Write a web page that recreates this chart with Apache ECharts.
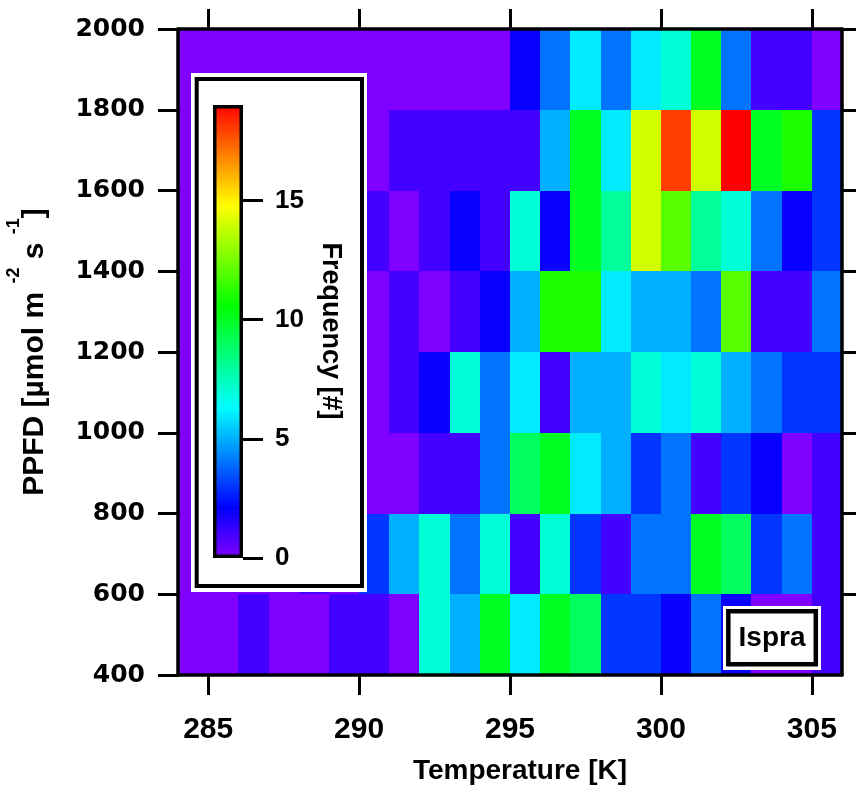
<!DOCTYPE html>
<html>
<head>
<meta charset="utf-8">
<script src="https://cdn.jsdelivr.net/npm/echarts@6/dist/echarts.min.js"></script>
<style>
html,body{margin:0;padding:0;background:#fff;}
#chart{width:856px;height:791px;}
</style>
</head>
<body>
<div id="chart"></div>
<script>
// ---- data ----
const tempBins = [284,285,286,287,288,289,290,291,292,293,294,295,296,297,298,299,300,301,302,303,304,305];
const ppfdBins = [400,600,800,1000,1200,1400,1600,1800];
const count400  = [0,0,1,0,0,1,1,0,7,5,10,6,10,9,3,3,2,4,2,0,0,1];
const count600  = [0,0,0,0,1,0,3,5,7,4,7,1,7,3,1,4,4,10,9,3,4,1];
const count800  = [0,0,0,0,0,0,0,0,1,1,4,9,10,6,5,3,4,1,3,2,0,1];
const count1000 = [0,0,0,0,0,0,0,1,2,7,4,6,1,5,5,7,6,7,5,4,3,3];
const count1200 = [0,0,0,0,0,0,0,1,0,1,2,5,11,11,6,5,5,4,12,1,1,4];
const count1400 = [0,0,0,0,0,0,1,0,1,2,1,7,2,10,8,14,12,8,7,4,2,3];
const count1600 = [0,0,0,0,0,0,0,1,1,1,1,1,5,10,6,14,18,14,19,10,11,3];
const count1800 = [0,0,0,0,0,0,0,0,0,0,0,2,4,6,4,6,7,10,4,1,1,0];
const tempStep = 1;
const ppfdStep = 200;
const xTicks = [285,290,295,300,305];
const yRightTicks = [600,800,1000,1200,1400,1600,1800,2000];
const colorbarTicks = [0,5,10,15];
const countMax = 19;

// ---- styling ----
const FONT = 'Liberation Sans';
const rainbow = ['#8000ff','#0000ff','#0080ff','#00ffff','#00ff80','#00ff00','#80ff00','#ffff00','#ff8000','#ff0000'];

const countRows = [count400,count600,count800,count1000,count1200,count1400,count1600,count1800];
const cells = [];
countRows.forEach((row, r) => {
  row.forEach((v, c) => { cells.push([tempBins[c], ppfdBins[r], v]); });
});

function renderCell(params, api) {
  const t = api.value(0), p = api.value(1);
  const a = api.coord([t, p + ppfdStep]);
  const b = api.coord([t + tempStep, p]);
  const x0 = Math.round(a[0]), y0 = Math.round(a[1]);
  const x1 = Math.round(b[0]), y1 = Math.round(b[1]);
  return {
    type: 'rect',
    shape: {x: x0, y: y0, width: x1 - x0, height: y1 - y0},
    style: {fill: api.visual('color')}
  };
}

const axisLineStyle = {color: '#000', width: 3.5};
const tickLineStyle = {color: '#000', width: 3};

const gradStops = rainbow.map((c, i) => ({offset: i / (rainbow.length - 1), color: c}));

const chart = echarts.init(document.getElementById('chart'), null, {renderer: 'canvas'});
const option = {
  backgroundColor: '#fff',
  animation: false,
  grid: [
    {left: 178, top: 29, width: 664, height: 646},
    {left: 213, top: 105, width: 30, height: 453}
  ],
  xAxis: [
    {
      type: 'value', gridIndex: 0, min: 284, max: 306, position: 'bottom', z: 10,
      axisLine: {show: true, onZero: false, lineStyle: axisLineStyle},
      axisTick: {show: true, inside: false, length: 20, customValues: xTicks, lineStyle: tickLineStyle},
      axisLabel: {show: true, customValues: xTicks, margin: 40, color: '#000', fontFamily: FONT, fontWeight: 'bold', fontSize: 30},
      splitLine: {show: false}
    },
    {
      type: 'value', gridIndex: 0, min: 284, max: 306, position: 'top', z: 10,
      axisLine: {show: true, onZero: false, lineStyle: axisLineStyle},
      axisTick: {show: true, inside: false, length: 20, customValues: xTicks, lineStyle: tickLineStyle},
      axisLabel: {show: false},
      splitLine: {show: false}
    },
    {
      type: 'category', gridIndex: 1, data: ['bar'], show: false
    }
  ],
  yAxis: [
    {
      type: 'value', gridIndex: 0, min: 400, max: 2000, interval: 200, position: 'left', z: 10,
      axisLine: {show: true, onZero: false, lineStyle: axisLineStyle},
      axisTick: {show: true, inside: false, length: 20, lineStyle: tickLineStyle},
      axisLabel: {show: true, margin: 33, color: '#000', fontFamily: 'DejaVu Sans', fontWeight: 'bold', fontSize: 25,
        formatter: v => String(v)},
      splitLine: {show: false}
    },
    {
      type: 'value', gridIndex: 0, min: 400, max: 2000, interval: 200, position: 'right', z: 10,
      axisLine: {show: true, onZero: false, lineStyle: axisLineStyle},
      axisTick: {show: true, inside: false, length: 20, customValues: yRightTicks, lineStyle: tickLineStyle},
      axisLabel: {show: false},
      splitLine: {show: false}
    },
    {
      type: 'value', gridIndex: 1, min: 0, max: countMax, position: 'right', z: 60,
      axisLine: {show: false},
      axisTick: {show: true, inside: false, length: 20, customValues: colorbarTicks, lineStyle: tickLineStyle},
      axisLabel: {show: true, customValues: colorbarTicks, margin: 32, color: '#000', fontFamily: FONT, fontWeight: 'bold', fontSize: 26},
      splitLine: {show: false}
    }
  ],
  visualMap: {
    type: 'continuous', show: false, min: 0, max: countMax, dimension: 2, seriesIndex: 0,
    inRange: {color: rainbow}
  },
  series: [
    {
      type: 'custom', xAxisIndex: 0, yAxisIndex: 0, data: cells,
      encode: {x: 0, y: 1}, renderItem: renderCell, silent: true, z: 2
    },
    {
      type: 'bar', xAxisIndex: 2, yAxisIndex: 2, data: [countMax], barWidth: '100%', z: 60, silent: true,
      itemStyle: {
        color: new echarts.graphic.LinearGradient(0, 1, 0, 0, gradStops),
        borderColor: '#000', borderWidth: 3.5
      }
    }
  ],
  graphic: [
    {type: 'rect', z: 50, shape: {x: 191, y: 73, width: 176, height: 519}, style: {fill: '#fff'}},
    {type: 'rect', z: 51, shape: {x: 196.7, y: 79, width: 165.3, height: 507}, style: {fill: 'none', stroke: '#000', lineWidth: 4}},
    {type: 'text', z: 70, x: 330, y: 331, rotation: -Math.PI / 2,
      style: {text: 'Frequency [#]', fill: '#000', font: 'bold 27px "Liberation Sans"', align: 'center', verticalAlign: 'middle'}},
    {type: 'rect', z: 50, shape: {x: 723, y: 606, width: 98, height: 64}, style: {fill: '#fff'}},
    {type: 'rect', z: 51, shape: {x: 728.3, y: 611.3, width: 87.5, height: 52.9}, style: {fill: 'none', stroke: '#000', lineWidth: 4.5}},
    {type: 'text', z: 70, x: 772, y: 638,
      style: {text: 'Ispra', fill: '#000', font: 'bold 28px "Liberation Sans"', align: 'center', verticalAlign: 'middle'}},
    {type: 'text', z: 70, x: 520, y: 771,
      style: {text: 'Temperature [K]', fill: '#000', font: 'bold 28px "Liberation Sans"', align: 'center', verticalAlign: 'middle'}},
    {type: 'text', z: 70, x: 35, y: 352, rotation: Math.PI / 2,
      style: {
        text: '{main|PPFD [µmol m }{sup|-2}{main| s }{sup|-1}{main|]}', fill: '#000',
        align: 'center', verticalAlign: 'middle',
        rich: {
          main: {fontSize: 30, fontWeight: 'bold', fontFamily: FONT, fill: '#000', verticalAlign: 'middle'},
          sup: {fontSize: 18, fontWeight: 'bold', fontFamily: FONT, fill: '#000', verticalAlign: 'middle', padding: [0, 0, 42, 0]}
        }
      }}
  ]
};
chart.setOption(option);
</script>
</body>
</html>
